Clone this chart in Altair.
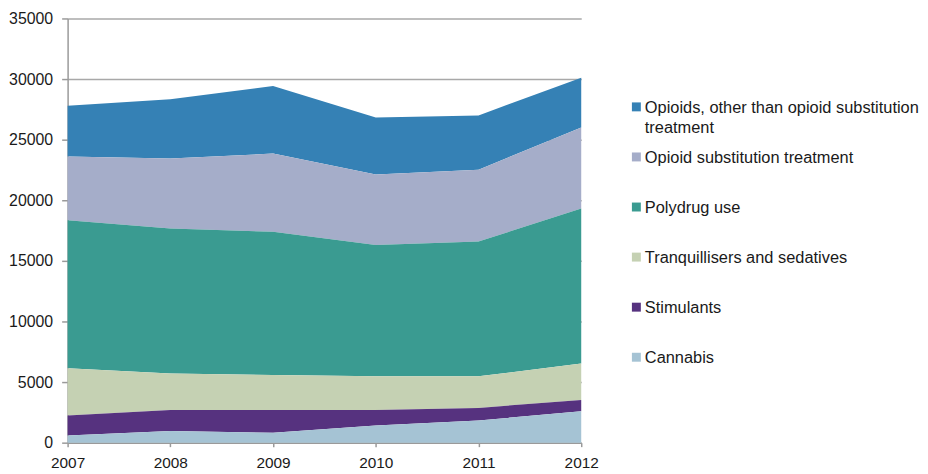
import altair as alt
import pandas as pd

years = [2007, 2008, 2009, 2010, 2011, 2012]

# legend order (top to bottom) == reverse stacking order
series = [
    "Opioids, other than opioid substitution treatment",
    "Opioid substitution treatment",
    "Polydrug use",
    "Tranquillisers and sedatives",
    "Stimulants",
    "Cannabis",
]
legend_lines = [
    ["Opioids, other than opioid substitution", "treatment"],
    ["Opioid substitution treatment"],
    ["Polydrug use"],
    ["Tranquillisers and sedatives"],
    ["Stimulants"],
    ["Cannabis"],
]
colors = ["#3581b5", "#a5adc9", "#3a9b91", "#c5d1b3", "#56327f", "#a5c3d4"]

opioids = [4180, 4900, 5580, 4700, 4480, 4100]
ost = [5250, 5760, 6450, 5820, 5930, 6690]
polydrug = [12210, 11970, 11825, 10840, 11120, 12790]
tranq = [3910, 3005, 2870, 2765, 2600, 3005]
stimulants = [1640, 1745, 1885, 1285, 1040, 925]
cannabis = [600, 960, 820, 1420, 1830, 2600]

values = [opioids, ost, polydrug, tranq, stimulants, cannabis]

rows = []
for i, (name, vals) in enumerate(zip(series, values)):
    for y, v in zip(years, vals):
        rows.append({"Year": y, "Series": name, "Value": v, "stack": len(series) - 1 - i})
df = pd.DataFrame(rows)

font = "Liberation Sans"
color_scale = alt.Scale(domain=series, range=colors)

area = alt.Chart(df).mark_area(opacity=1).encode(
    x=alt.X("Year:Q",
            scale=alt.Scale(domain=[2007, 2012], nice=False, zero=False),
            axis=alt.Axis(values=years, format="d", title=None, grid=False,
                          labelFlush=False, labelOverlap=False,
                          domainColor="#9a9a9a", domainWidth=1.5,
                          tickColor="#9a9a9a", tickWidth=1.5, tickSize=4,
                          labelPadding=9, labelFontSize=15.5, labelFont=font,
                          labelColor="#1a1a1a")),
    y=alt.Y("Value:Q", stack="zero",
            scale=alt.Scale(domain=[0, 35000], nice=False),
            axis=alt.Axis(values=list(range(0, 35001, 5000)), format="d", title=None,
                          grid=True, gridColor="#a8a8a8", gridWidth=1.5,
                          domainColor="#9a9a9a", domainWidth=1.5,
                          tickColor="#9a9a9a", tickWidth=1.5, tickSize=6,
                          labelPadding=9, labelFontSize=16, labelFont=font,
                          labelColor="#1a1a1a")),
    color=alt.Color("Series:N", scale=color_scale, legend=None),
    order=alt.Order("stack:Q", sort="ascending"),
).properties(width=517, height=427)

leg_rows = []
for name, lines in zip(series, legend_lines):
    leg_rows.append({"Series": name, "label": lines})
leg_df = pd.DataFrame(leg_rows)

ypos = alt.Y("Series:N", sort=series, axis=None,
             scale=alt.Scale(type="point", range=[89, 341], padding=0))

leg_sym = alt.Chart(leg_df).mark_square(size=81, opacity=1).encode(
    x=alt.value(4.5),
    y=ypos,
    color=alt.Color("Series:N", scale=color_scale, legend=None),
)
leg_txt = alt.Chart(leg_df).mark_text(
    align="left", baseline="alphabetic", dy=6, fontSize=16.5, font=font,
    color="#1a1a1a", lineHeight=20,
).encode(
    x=alt.value(13),
    y=ypos,
    text="label",
)
legend = (leg_sym + leg_txt).properties(width=275, height=427)

chart = alt.hconcat(area, legend, spacing=51, bounds="flush").properties(
    padding={"left": 0, "top": 1, "right": 0, "bottom": 0}
).configure_view(stroke=None)

chart.save("out.html", embed_options={"renderer": "svg", "actions": False})
